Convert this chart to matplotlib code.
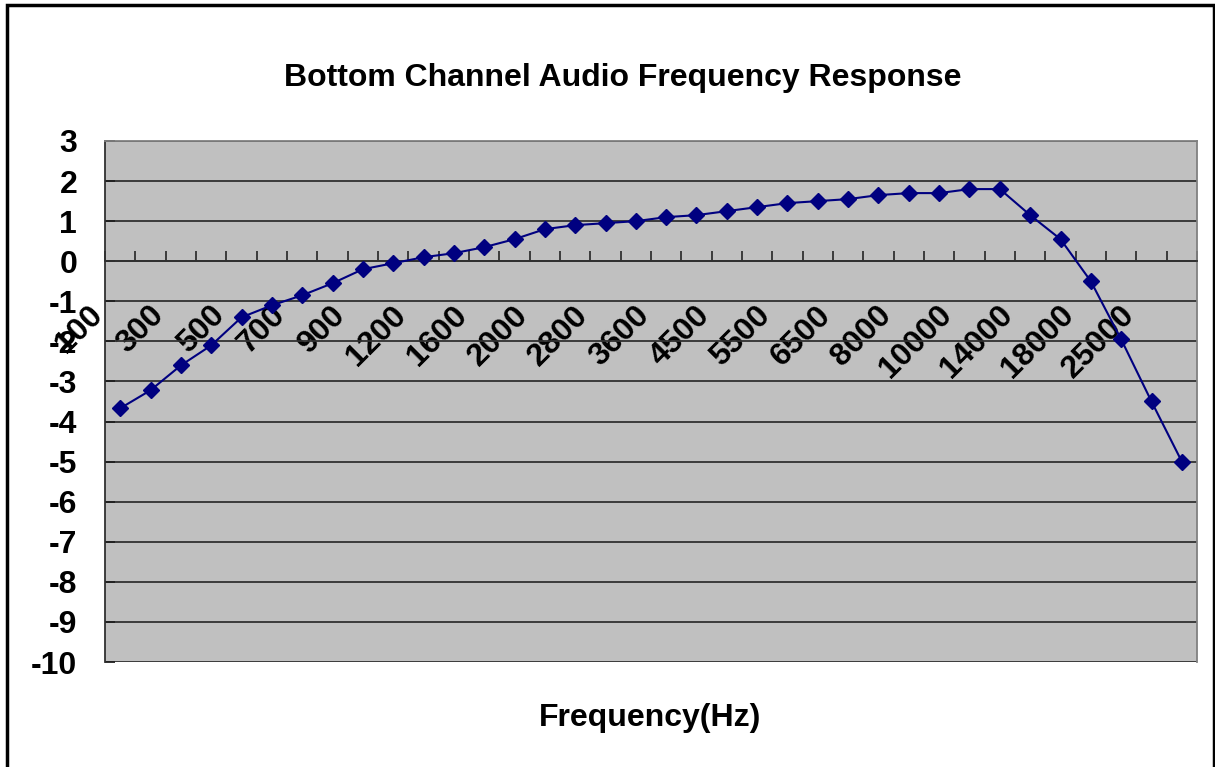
import matplotlib
matplotlib.use("Agg")
import matplotlib.pyplot as plt
from matplotlib.patches import Rectangle
from matplotlib.ticker import FixedLocator, NullFormatter
from matplotlib.transforms import ScaledTranslation

freqs = ["100", "200", "300", "400", "500", "600", "700", "800", "900", "1000",
         "1200", "1400", "1600", "1800", "2000", "2400", "2800", "3200", "3600", "4000",
         "4500", "5000", "5500", "6000", "6500", "7000", "8000", "9000", "10000", "12000",
         "14000", "16000", "18000", "20000", "25000", "30000"]
response_db = [-3.67, -3.22, -2.6, -2.1, -1.4, -1.1, -0.85, -0.55, -0.2, -0.05,
               0.1, 0.2, 0.35, 0.55, 0.8, 0.9, 0.95, 1.0, 1.1, 1.15,
               1.25, 1.35, 1.45, 1.5, 1.55, 1.65, 1.7, 1.7, 1.8, 1.8,
               1.15, 0.55, -0.5, -1.95, -3.5, -5.0]
y_ticks = list(range(-10, 4))

plt.rcParams['font.family'] = ['Liberation Sans', 'DejaVu Sans']
plt.rcParams['axes.unicode_minus'] = False

W, H = 1215, 767
fig = plt.figure(figsize=(W / 100, H / 100), dpi=100)
fig.patch.set_facecolor('white')

L, R, T, B = 105, 1197, 141, 662
ax = fig.add_axes([L / W, 1 - B / H, (R - L) / W, (B - T) / H])
ax.set_facecolor('#C0C0C0')

x = list(range(len(freqs)))
ax.plot(x, response_db, color='#000080', lw=1.5, marker='D', markersize=8,
        markerfacecolor='#000080', markeredgecolor='#000080', zorder=5, clip_on=False)

ax.set_xlim(-0.5, len(freqs) - 0.5)
ax.set_ylim(-10, 3)

FS = 23

# grid
ax.set_yticks(y_ticks)
ax.yaxis.grid(True, color='#303030', lw=1.3)
ax.set_axisbelow(True)
ax.tick_params(axis='y', direction='in', length=7, width=1.3, color='#202020',
               labelsize=FS, pad=20)
for lab in ax.get_yticklabels():
    lab.set_fontweight('bold')

# spines
ax.spines['left'].set_color('#303030')
ax.spines['left'].set_linewidth(1.3)
ax.spines['top'].set_color('#808080')
ax.spines['right'].set_color('#808080')
ax.spines['top'].set_linewidth(1.3)
ax.spines['right'].set_linewidth(1.3)
ax.spines['bottom'].set_position(('data', 0))
ax.spines['bottom'].set_color('#303030')
ax.spines['bottom'].set_linewidth(1.3)

# x ticks: marks at category boundaries, labels on every other category
ax.xaxis.set_minor_locator(FixedLocator([i - 0.5 for i in range(len(freqs) + 1)]))
ax.xaxis.set_minor_formatter(NullFormatter())
ax.tick_params(axis='x', which='minor', direction='in', length=7.5, width=1.3, color='#303030')
major_pos = x[::2]
ax.xaxis.set_major_locator(FixedLocator(major_pos))
ax.set_xticklabels(freqs[::2])
ax.tick_params(axis='x', which='major', length=0, labelsize=FS, pad=28)
offset = ScaledTranslation(-0.11, 0, fig.dpi_scale_trans)
for lab in ax.get_xticklabels():
    lab.set_fontweight('bold')
    lab.set_rotation(45)
    lab.set_ha('right')
    lab.set_va('top')
    lab.set_transform(lab.get_transform() + offset)

ax.set_title('Bottom Channel Audio Frequency Response', fontsize=FS, fontweight='bold', pad=0)
ax.title.set_position((0.5, 1.0))
ax.title.set_transform(ax.transAxes + ScaledTranslation(-28 / 100, 55 / 100, fig.dpi_scale_trans))

ax.set_xlabel('Frequency(Hz)', fontsize=FS, fontweight='bold')
ax.xaxis.set_label_coords((650 - L) / (R - L), (B - 703) / (B - T))

# figure border
fig.patches.append(Rectangle((6.5 / W, -0.05), (1213.5 - 6.5) / W, 1.05 - 5.5 / H,
                             transform=fig.transFigure, fill=False, edgecolor='black',
                             lw=2.5, zorder=10))

fig.savefig('out.png', dpi=100, facecolor='white')
